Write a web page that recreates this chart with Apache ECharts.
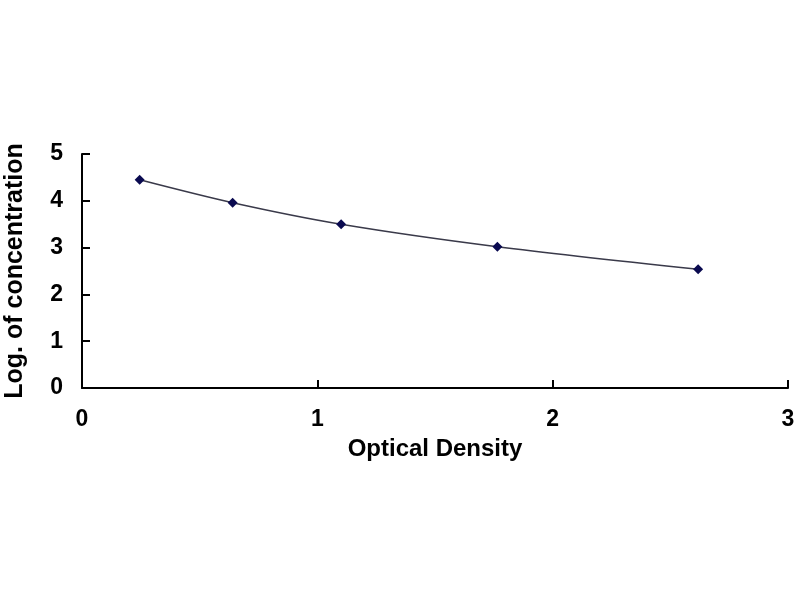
<!DOCTYPE html>
<html>
<head>
<meta charset="utf-8">
<script src="https://cdn.jsdelivr.net/npm/echarts@6/dist/echarts.min.js"></script>
<style>
  html, body { margin: 0; padding: 0; background: #fff; }
  #chart { width: 800px; height: 600px; }
</style>
</head>
<body>
<div id="chart"></div>
<script>
// standard curve points
const opticalDensity = [0.245, 0.640, 1.101, 1.765, 2.618];
const logConcentration = [4.45, 3.96, 3.50, 3.02, 2.535];

const points = opticalDensity.map((x, i) => [x, logConcentration[i]]);

const axisFont = {
  fontFamily: 'Liberation Sans, Arial, sans-serif',
  fontWeight: 'bold',
  fontSize: 23,
  color: '#000'
};

const option = {
  backgroundColor: '#fff',
  animation: false,
  grid: {
    left: 82,
    right: 12,
    top: 154,
    bottom: 212,
    outerBoundsMode: 'none',
    containLabel: false
  },
  xAxis: {
    type: 'value',
    min: 0,
    max: 3,
    interval: 1,
    name: 'Optical Density',
    nameLocation: 'middle',
    nameGap: 49,
    nameTextStyle: { ...axisFont, fontSize: 24 },
    axisLine: { show: true, lineStyle: { color: '#000', width: 2 } },
    axisTick: { show: true, inside: true, length: 8, lineStyle: { color: '#000', width: 2 } },
    axisLabel: { ...axisFont, margin: 20 },
    splitLine: { show: false }
  },
  yAxis: {
    type: 'value',
    min: 0,
    max: 5,
    interval: 1,
    name: 'Log. of concentration',
    nameLocation: 'middle',
    nameGap: 54,
    nameTextStyle: { ...axisFont, fontSize: 25 },
    axisLine: { show: true, lineStyle: { color: '#000', width: 2 } },
    axisTick: { show: true, inside: true, length: 8, lineStyle: { color: '#000', width: 2 } },
    axisLabel: { ...axisFont, margin: 19 },
    splitLine: { show: false }
  },
  series: [
    {
      type: 'line',
      data: points,
      smooth: 0.3,
      symbol: 'diamond',
      symbolSize: 10,
      itemStyle: { color: '#0a0a50' },
      lineStyle: { color: '#3a3a4a', width: 1.5 }
    }
  ]
};

const el = echarts.init(document.getElementById('chart'));
el.setOption(option);
</script>
</body>
</html>
